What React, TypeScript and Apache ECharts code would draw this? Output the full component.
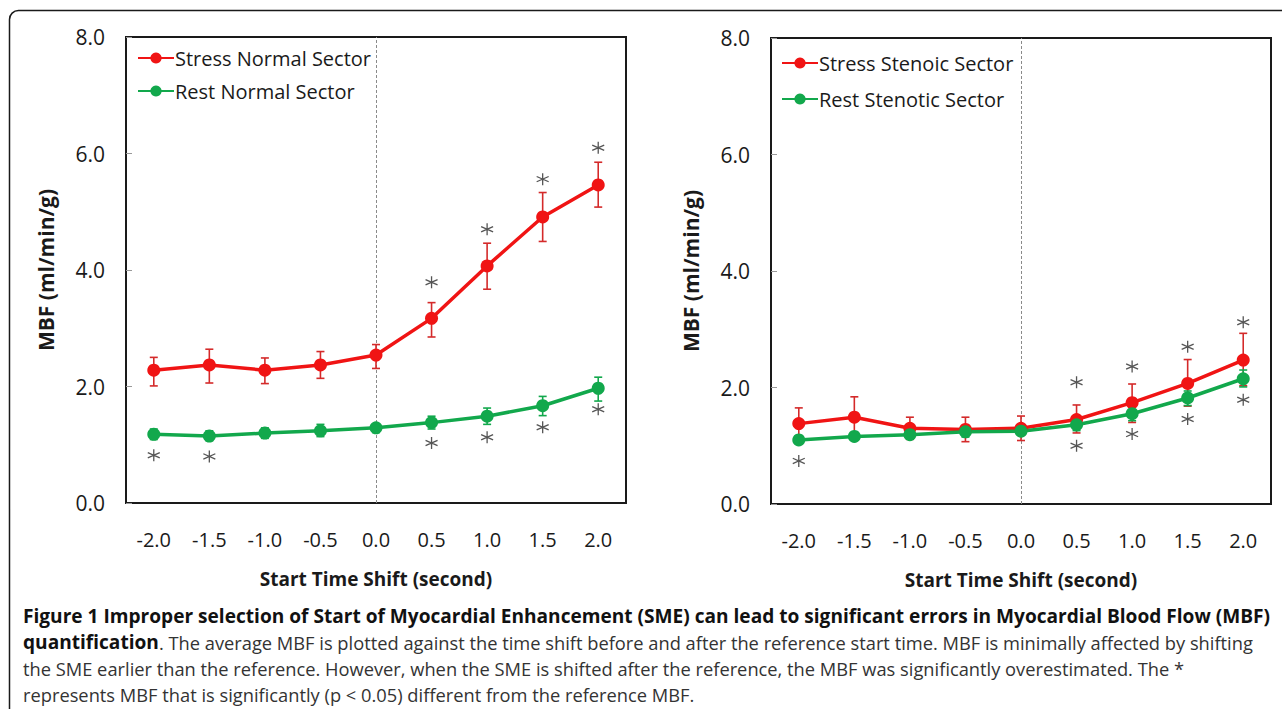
import React, { useEffect, useRef } from "react";
import * as echarts from "echarts";

const categories = ["-2.0", "-1.5", "-1.0", "-0.5", "0.0", "0.5", "1.0", "1.5", "2.0"];
const yTicks = [0, 2, 4, 6, 8];

// Left panel (normal sector)
const stressNormal = [2.28, 2.37, 2.28, 2.37, 2.54, 3.17, 4.07, 4.91, 5.46];
const stressNormalHigh = [2.5, 2.64, 2.49, 2.6, 2.72, 3.44, 4.46, 5.33, 5.85];
const stressNormalLow = [2.01, 2.06, 2.05, 2.14, 2.31, 2.85, 3.67, 4.49, 5.08];
const restNormal = [1.18, 1.15, 1.2, 1.24, 1.29, 1.38, 1.49, 1.67, 1.97];
const restNormalHigh = [1.27, 1.24, 1.29, 1.35, 1.36, 1.49, 1.63, 1.83, 2.16];
const restNormalLow = [1.09, 1.07, 1.11, 1.14, 1.21, 1.27, 1.35, 1.5, 1.75];
const leftStarCats = ["0.5", "1.0", "1.5", "2.0", "-2.0", "-1.5", "0.5", "1.0", "1.5", "2.0"];
const leftStarVals = [3.79, 4.7, 5.56, 6.1, 0.82, 0.8, 1.03, 1.13, 1.3, 1.61];

// Right panel (stenotic sector)
const stressStenotic = [1.38, 1.49, 1.3, 1.28, 1.3, 1.45, 1.74, 2.07, 2.47];
const stressStenoticHigh = [1.65, 1.84, 1.49, 1.49, 1.51, 1.7, 2.06, 2.48, 2.93];
const stressStenoticLow = [1.11, 1.18, 1.11, 1.07, 1.09, 1.22, 1.4, 1.68, 2.03];
const restStenotic = [1.1, 1.16, 1.19, 1.24, 1.25, 1.36, 1.55, 1.82, 2.15];
const restStenoticHigh = [1.17, 1.21, 1.25, 1.33, 1.31, 1.45, 1.66, 1.94, 2.3];
const restStenoticLow = [1.03, 1.1, 1.12, 1.15, 1.18, 1.26, 1.43, 1.69, 2.01];
const rightStarCats = ["0.5", "1.0", "1.5", "2.0", "-2.0", "0.5", "1.0", "1.5", "2.0"];
const rightStarVals = [2.09, 2.36, 2.7, 3.12, 0.74, 1.0, 1.2, 1.46, 1.79];

const seriesNames = [
  "Stress Normal Sector",
  "Rest Normal Sector",
  "Stress Stenoic Sector",
  "Rest Stenotic Sector",
];

const captionLines = [
  "{b|Figure 1 Improper selection of Start of Myocardial Enhancement (SME) can lead to significant errors in Myocardial Blood Flow (MBF)}",
  "{b|quantification}. The average MBF is plotted against the time shift before and after the reference start time. MBF is minimally affected by shifting",
  "the SME earlier than the reference. However, when the SME is shifted after the reference, the MBF was significantly overestimated. The *",
  "represents MBF that is significantly (p < 0.05) different from the reference MBF.",
];

const RED = "#f01414";
const RED_BAR = "#d42a2a";
const GREEN = "#12a84c";
const GREEN_BAR = "#12a84c";
const FONT = "Open Sans";

const starSymbol = "path://M5,0 L5,10 M0.6,2.8 L9.4,7.2 M0.6,7.2 L9.4,2.8";

function errorBars(axisIndex: number, low: number[], high: number[], color: string, z: number) {
  return {
    type: "custom",
    xAxisIndex: axisIndex,
    yAxisIndex: axisIndex,
    z,
    silent: true,
    encode: { x: 0, y: [1, 2] },
    data: categories.map((_, i) => [i, low[i], high[i]]),
    renderItem: (_params: any, api: any) => {
      const i = api.value(0);
      const top = api.coord([i, api.value(2)]);
      const bot = api.coord([i, api.value(1)]);
      const half = 4;
      const style = { stroke: color, lineWidth: 1.6 };
      return {
        type: "group",
        children: [
          { type: "line", shape: { x1: top[0], y1: top[1], x2: bot[0], y2: bot[1] }, style },
          { type: "line", shape: { x1: top[0] - half, y1: top[1], x2: top[0] + half, y2: top[1] }, style },
          { type: "line", shape: { x1: bot[0] - half, y1: bot[1], x2: bot[0] + half, y2: bot[1] }, style },
        ],
      };
    },
  };
}

function lineSeries(axisIndex: number, name: string, data: number[], color: string, withRef: boolean) {
  const s: any = {
    type: "line",
    name,
    xAxisIndex: axisIndex,
    yAxisIndex: axisIndex,
    data,
    symbol: "circle",
    symbolSize: 13,
    lineStyle: { width: 3.5, color },
    itemStyle: { color },
    z: 4,
  };
  if (withRef) {
    s.markLine = {
      silent: true,
      symbol: "none",
      label: { show: false },
      lineStyle: { color: "#8a8a8a", type: [3, 2], width: 1 },
      data: [{ xAxis: categories.indexOf("0.0") }],
      z: 1,
    };
  }
  return s;
}

function starSeries(axisIndex: number, cats: string[], vals: number[]) {
  return {
    type: "scatter",
    xAxisIndex: axisIndex,
    yAxisIndex: axisIndex,
    symbol: starSymbol,
    symbolSize: [12, 12],
    itemStyle: { color: "transparent", borderColor: "#2a2a2a", borderWidth: 1.3 },
    silent: true,
    z: 5,
    data: cats.map((c, i) => [categories.indexOf(c), vals[i]]),
  };
}

function xAxis(gridIndex: number) {
  return {
    type: "category",
    gridIndex,
    data: categories,
    boundaryGap: true,
    axisLine: { show: false },
    axisTick: { show: false },
    axisLabel: { fontSize: 20, color: "#1a1a1a", fontFamily: FONT, margin: 26 },
    name: "Start Time Shift (second)",
    nameLocation: "middle",
    nameGap: 66,
    nameTextStyle: { fontSize: 19, fontWeight: "bold", color: "#1a1a1a", fontFamily: FONT },
  };
}

function yAxis(gridIndex: number) {
  return {
    type: "value",
    gridIndex,
    min: yTicks[0],
    max: yTicks[yTicks.length - 1],
    interval: 2,
    splitLine: { show: false },
    axisLine: { show: false },
    axisTick: { show: true, inside: true, length: 6, lineStyle: { color: "#999" } },
    axisLabel: {
      fontSize: 21,
      color: "#1a1a1a",
      fontFamily: FONT,
      margin: 21,
      formatter: (v: number) => v.toFixed(1),
    },
    name: "MBF (ml/min/g)",
    nameLocation: "middle",
    nameGap: 70,
    nameTextStyle: { fontSize: 21, fontWeight: "bold", color: "#1a1a1a", fontFamily: FONT },
  };
}

function legend(names: string[], left: number, top: number, gap: number) {
  return {
    data: names,
    orient: "vertical",
    left,
    top,
    itemWidth: 36,
    itemHeight: 14,
    itemGap: gap,
    selectedMode: false,
    textStyle: { fontSize: 20, fontFamily: FONT, color: "#1a1a1a", padding: [0, 0, 0, -4] },
  };
}

export default function App() {
  const ref = useRef<HTMLDivElement>(null);

  useEffect(() => {
    document.body.style.margin = "0";
    if (!ref.current) return;
    const chart = echarts.init(ref.current, undefined, { renderer: "svg" });

    const captionY = [616, 642, 668, 694];
    const option: any = {
      animation: false,
      backgroundColor: "#ffffff",
      grid: [
        { left: 126, top: 37, width: 500, height: 466, show: true, borderColor: "#1a1a1a", borderWidth: 2, backgroundColor: "transparent" },
        { left: 771, top: 38, width: 500, height: 466, show: true, borderColor: "#1a1a1a", borderWidth: 2, backgroundColor: "transparent" },
      ],
      xAxis: [xAxis(0), xAxis(1)],
      yAxis: [yAxis(0), yAxis(1)],
      legend: [
        legend([seriesNames[0], seriesNames[1]], 132, 43, 13),
        legend([seriesNames[2], seriesNames[3]], 776, 48, 16),
      ],
      series: [
        errorBars(0, stressNormalLow, stressNormalHigh, RED_BAR, 2),
        errorBars(0, restNormalLow, restNormalHigh, GREEN_BAR, 2),
        lineSeries(0, seriesNames[0], stressNormal, RED, true),
        lineSeries(0, seriesNames[1], restNormal, GREEN, false),
        starSeries(0, leftStarCats, leftStarVals),
        errorBars(1, stressStenoticLow, stressStenoticHigh, RED_BAR, 2),
        errorBars(1, restStenoticLow, restStenoticHigh, GREEN_BAR, 2),
        lineSeries(1, seriesNames[2], stressStenotic, RED, true),
        lineSeries(1, seriesNames[3], restStenotic, GREEN, false),
        starSeries(1, rightStarCats, rightStarVals),
      ],
      graphic: [
        {
          type: "rect",
          silent: true,
          z: -1,
          shape: { x: 9.5, y: 10.5, width: 1400, height: 800, r: 9 },
          style: { fill: "none", stroke: "#1a1a1a", lineWidth: 1.5 },
        },
        ...captionLines.map((t, i) => ({
          type: "text",
          silent: true,
          x: 23,
          y: captionY[i],
          style: {
            text: t,
            fontSize: 18.3,
            fontFamily: FONT,
            fill: "#333",
            verticalAlign: "middle",
            rich: {
              b: { fontSize: 19.1, fontFamily: FONT, fontWeight: "bold", fill: "#111" },
            },
          },
        })),
      ],
    };
    chart.setOption(option);
    return () => chart.dispose();
  }, []);

  return <div ref={ref} style={{ width: 1282, height: 709 }} />;
}
